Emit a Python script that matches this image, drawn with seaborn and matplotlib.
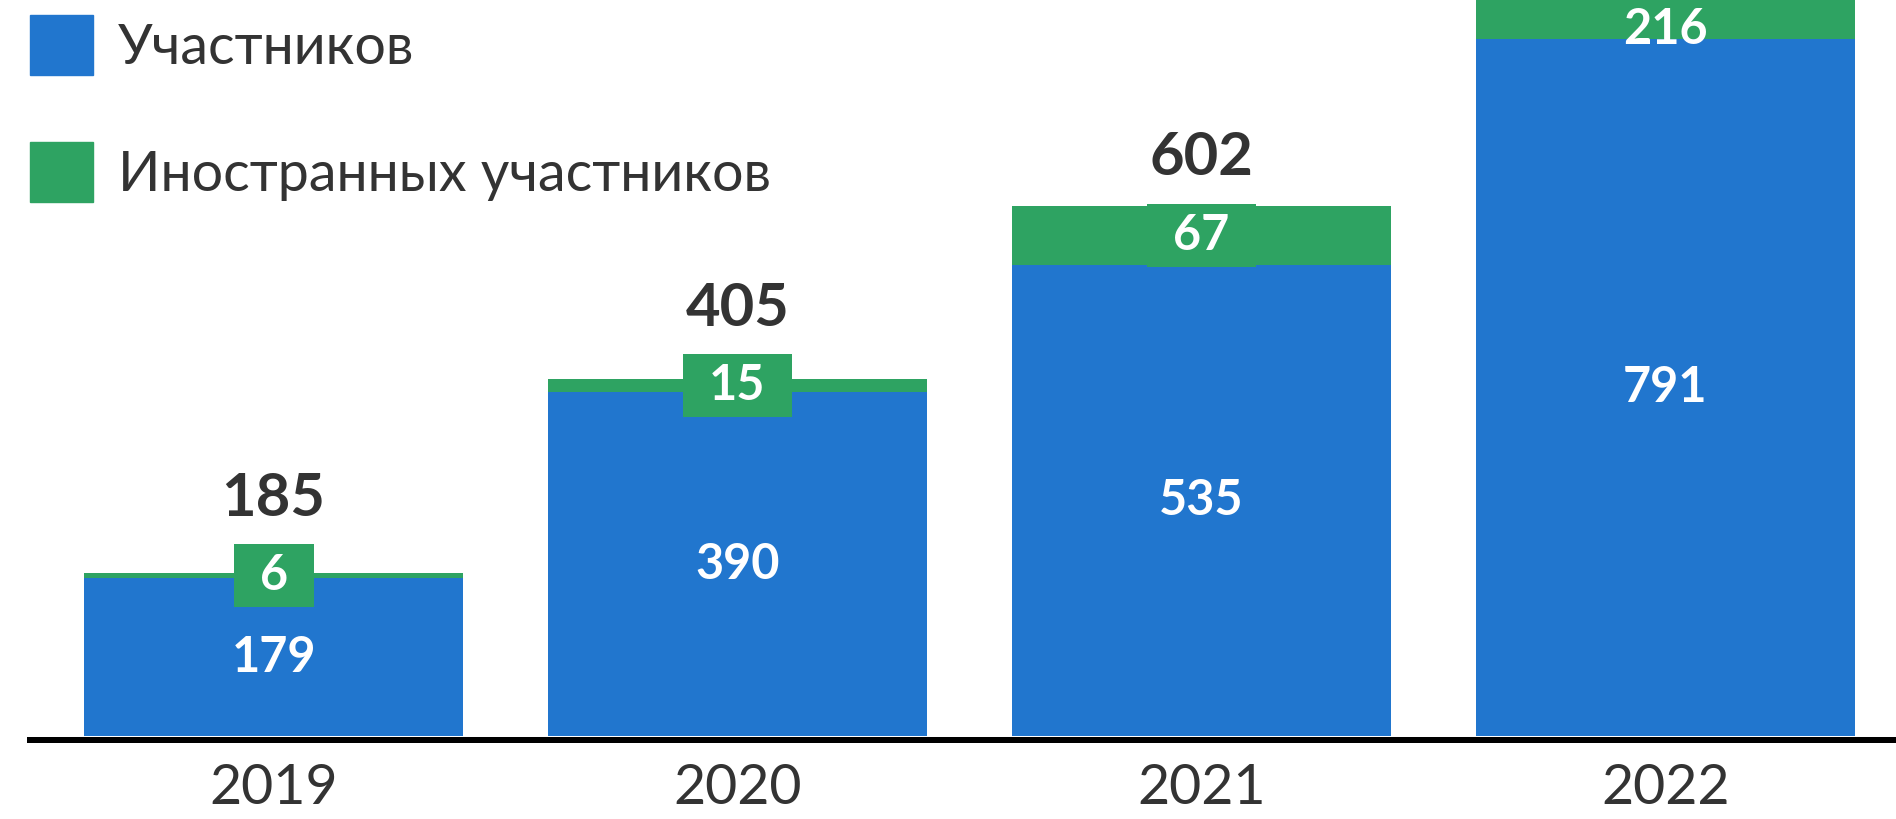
import matplotlib
matplotlib.use("Agg")
import matplotlib.pyplot as plt
import matplotlib.patches as mpatches
import seaborn as sns
import pandas as pd

years = ["2019", "2020", "2021", "2022"]
participants = [179, 390, 535, 791]
foreign = [6, 15, 67, 216]
legend_labels = ["Участников", "Иностранных участников"]

BLUE = "#2176CE"
GREEN = "#2EA362"
DARK = "#333333"

sns.set_theme(style="white")
plt.rcParams["font.family"] = ["Lato", "DejaVu Sans"]

totals = [p + f for p, f in zip(participants, foreign)]
df = pd.DataFrame({"year": years, "participants": participants,
                   "foreign": foreign, "total": totals})

W, H = 1896, 819
fig = plt.figure(figsize=(W / 100, H / 100), dpi=100)
ax = fig.add_axes([30 / W, 1 - 736 / H, 1 - 30 / W, 736 / H])

sns.barplot(data=df, x="year", y="total", color=GREEN, width=0.817,
            saturation=1, ax=ax, order=years, linewidth=0, edgecolor="none")
sns.barplot(data=df, x="year", y="participants", color=BLUE, width=0.817,
            saturation=1, ax=ax, order=years, linewidth=0, edgecolor="none")

ytop = 736 / 0.881
ax.set_ylim(0, ytop)
ax.set_xlim(-0.525, 3.497)

px_per_pt = 100 / 72
green_texts = []
for i, (p, f, t) in enumerate(zip(participants, foreign, totals)):
    ax.text(i, p / 2, str(p), ha="center", va="center", color="white",
            fontsize=35, fontweight="bold", zorder=5)
    mid = p + f / 2
    visible = mid < ytop - 40
    if visible:
        gt = ax.text(i, mid, str(f), ha="center", va="center", color="white",
                     fontsize=35, fontweight="bold", zorder=5)
        green_texts.append((i, mid, gt))
        ax.annotate(str(t), xy=(i, mid), xytext=(0, 77 / px_per_pt),
                    textcoords="offset points", ha="center", va="center",
                    color=DARK, fontsize=43, fontweight="bold")
    else:
        # segment runs past the top edge: put label in the visible green strip
        ax.text(i, p - 5, str(f), ha="center", va="baseline", color="white",
                fontsize=35, fontweight="bold", zorder=5)

# boxes behind the foreign-participant labels, sized from the text extent
fig.canvas.draw()
inv = ax.transData.inverted()
for i, mid, gt in green_texts:
    bb = gt.get_window_extent()
    _, ymid_disp = ax.transData.transform((i, mid))
    x0, y0 = inv.transform((bb.x0 - 26, ymid_disp - 31.5))
    x1, y1 = inv.transform((bb.x1 + 26, ymid_disp + 31.5))
    ax.add_patch(mpatches.Rectangle((x0, y0), x1 - x0, y1 - y0,
                                    facecolor=GREEN, edgecolor="none",
                                    zorder=4))

ax.set_xlabel("")
ax.set_ylabel("")
ax.set_yticks([])
ax.tick_params(axis="x", length=0, pad=17, labelsize=40, labelcolor=DARK)
for s in ["top", "right", "left"]:
    ax.spines[s].set_visible(False)
ax.spines["bottom"].set_color("black")
ax.spines["bottom"].set_linewidth(6 / px_per_pt)
ax.spines["bottom"].set_position(("outward", 3.5 / px_per_pt))

handles = [mpatches.Patch(color=BLUE, label=legend_labels[0]),
           mpatches.Patch(color=GREEN, label=legend_labels[1])]
leg = fig.legend(handles=handles, loc="upper left",
                 bbox_to_anchor=(30 / W, 1 - 15 / H), frameon=False,
                 fontsize=40, handlelength=1.13, handleheight=1.28,
                 handletextpad=0.45, labelspacing=1.21, borderpad=0,
                 borderaxespad=0)
for t in leg.get_texts():
    t.set_color(DARK)

fig.savefig("out.png", dpi=100)
